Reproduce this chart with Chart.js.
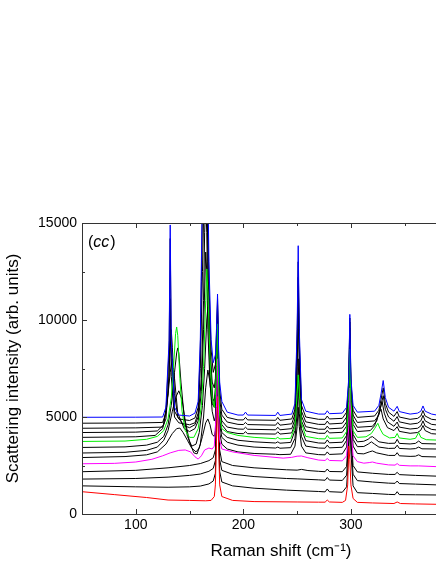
<!DOCTYPE html>
<html>
<head>
<meta charset="utf-8">
<script src="https://cdn.jsdelivr.net/npm/chart.js@4/dist/chart.umd.min.js"></script>
<style>
  html, body { margin: 0; padding: 0; background: #fff; overflow: hidden; width: 436px; height: 564px; }
  #wrap { position: relative; width: 480px; height: 564px; }
</style>
</head>
<body>
<div id="wrap"><canvas id="chart"></canvas></div>
<script>
// Raman spectra, (cc) polarisation, stacked from top (blue) to bottom (red)
// each point: [Raman shift (cm-1), intensity (arb. units)]
const spec01 = [[50,4985],[100,4990],[125,5000],[128,5500],[131,8960],[132,14900],[133,8960],[136,5500],[140,5100],[150,5050],[155,5200],
  [158,5800],[160,9000],[161,13000],[162,17000],[164,24000],[165,26000],[166,24000],[167,17000],[168,13000],[170,9000],[172,7800],
  [174,8200],[175,9500],[176,11340],[177,8500],[178,6800],[180,5800],[185,5250],[195,5100],[200,5100],[202,5250],[204,5100],
  [230,5080],[232,5250],[234,5080],[245,5150],[248,5700],[250,9500],[251,13830],[252,9500],[254,5900],[258,5300],
  [270,5150],[276,5150],[278,5320],[280,5170],[292,5200],[296,5500],[298,7000],[299,10290],[300,7000],[302,5600],[306,5250],
  [322,5300],[326,5600],[328,6200],[330,6880],[332,6000],[335,5500],[340,5300],[343,5550],[345,5280],[355,5150],
  [362,5200],[365,5300],[367,5570],[369,5300],[375,5150],[380,5100],[420,5100]];
const spec02 = [[50,4680],[100,4690],[125,4720],[128,5200],[131,8500],[132,14200],[133,8500],[136,5300],[140,4900],[150,4820],[155,4950],
  [158,5500],[160,8500],[161,12000],[162,16000],[164,22000],[165,24000],[166,22000],[167,15500],[168,12000],[170,8500],[172,7300],
  [174,7700],[175,9200],[176,11100],[177,8100],[178,6400],[180,5400],[185,4980],[195,4850],[200,4850],[202,4980],[204,4850],
  [230,4830],[232,4980],[234,4830],[245,4900],[248,5400],[250,9000],[251,13000],[252,9000],[254,5600],[258,5000],
  [270,4880],[276,4880],[278,5050],[280,4900],[292,4930],[296,5250],[298,6800],[299,10100],[300,6800],[302,5350],[306,4980],
  [322,5050],[326,5350],[328,5900],[330,6500],[332,5700],[335,5250],[340,5030],[343,5280],[345,5000],[355,4880],
  [362,4930],[365,5050],[367,5330],[369,5050],[375,4880],[380,4850],[420,4850]];
const spec03 = [[50,4420],[100,4440],[125,4480],[128,4900],[131,7100],[132,11100],[133,7100],[136,5000],[140,4700],[150,4600],[155,4700],
  [158,5200],[160,7500],[162,12500],[164,18000],[165,20000],[166,18000],[167,13000],[169,8500],[171,6800],[173,6500],
  [174,7000],[175,8600],[176,10800],[177,7600],[178,5900],[180,5100],[185,4740],[195,4620],[200,4610],[202,4720],[204,4610],
  [230,4580],[232,4720],[234,4580],[245,4650],[248,5150],[250,8600],[251,12200],[252,8600],[254,5300],[258,4750],
  [270,4620],[276,4620],[278,4790],[280,4640],[292,4680],[296,5000],[298,6600],[299,9900],[300,6600],[302,5100],[306,4720],
  [322,4800],[326,5100],[328,5600],[330,6100],[332,5400],[335,5000],[340,4780],[343,5020],[345,4750],[355,4630],
  [362,4680],[365,4800],[367,5080],[369,4800],[375,4620],[380,4590],[420,4590]];
const spec04 = [[50,4200],[100,4220],[120,4280],[126,4600],[130,6200],[132,8600],[133,9500],[134,8600],[136,6200],[139,5000],[145,4550],[150,4450],[155,4600],
  [158,5000],[161,7000],[163,11000],[164,14500],[165,16000],[166,14500],[167,11000],[169,7200],[171,6000],[173,5800],
  [174,6500],[175,8200],[176,10500],[177,7200],[178,5500],[180,4800],[185,4480],[195,4380],[200,4370],[202,4470],[204,4370],
  [230,4340],[232,4470],[234,4340],[245,4400],[248,4900],[250,8000],[251,11500],[252,8000],[254,5050],[258,4500],
  [270,4370],[276,4370],[278,4530],[280,4390],[292,4430],[296,4750],[298,6400],[299,9600],[300,6400],[302,4850],[306,4470],
  [320,4520],[324,4800],[327,5400],[329,5800],[331,5200],[334,4750],[340,4520],[343,4740],[345,4480],[355,4380],
  [362,4420],[365,4540],[367,4800],[369,4530],[375,4360],[380,4330],[420,4330]];
const spec05 = [[50,3950],[100,3980],[118,4050],[125,4400],[129,5600],[132,7300],[134,8000],[136,7000],[139,5200],[145,4400],[150,4250],[155,4400],
  [158,4800],[161,6300],[163,9500],[165,13500],[166,12500],[167,9500],[169,6700],[171,5700],[173,5500],
  [174,6200],[175,7900],[176,10200],[177,7000],[178,5300],[180,4600],[185,4250],[195,4150],[200,4140],[202,4240],[204,4140],
  [230,4120],[232,4240],[234,4120],[245,4180],[248,4650],[250,7600],[251,11000],[252,7600],[254,4800],[258,4280],
  [270,4160],[276,4160],[278,4310],[280,4180],[292,4210],[296,4530],[298,6200],[299,9300],[300,6200],[302,4620],[306,4250],
  [318,4300],[322,4550],[326,5200],[328,5400],[330,4900],[334,4450],[340,4300],[343,4500],[345,4260],[355,4160],
  [362,4200],[365,4320],[367,4560],[369,4300],[375,4140],[380,4120],[420,4120]];
const spec06 = [[50,3740],[90,3760],[110,3850],[120,4000],[126,4300],[130,4900],[133,6000],[135,7500],[137,9300],[138,9640],[139,9200],[141,7000],[143,5300],[146,4300],[150,3950],[154,3950],
  [158,4400],[161,5600],[163,7600],[165,11000],[166,12630],[167,11500],[169,8000],[171,6000],[173,5500],
  [174,6100],[175,7600],[176,9800],[177,6800],[178,5100],[180,4400],[185,4200],[195,4050],[210,3950],[230,3880],[232,3950],[234,3870],
  [244,3900],[248,4500],[250,6200],[251,7170],[252,6300],[254,4700],[258,4000],
  [270,3880],[276,3870],[278,4050],[280,3900],[292,3920],[296,4250],[298,5800],[299,8500],[300,5800],[302,4300],[306,3950],
  [314,3980],[319,4150],[322,4400],[325,4675],[327,4400],[330,4100],[336,3920],[341,3950],[343,4150],[345,3920],[355,3850],
  [360,3900],[363,4200],[365,3950],[370,3830],[380,3810],[420,3800]];
const spec07 = [[50,3430],[90,3460],[110,3550],[120,3700],[126,4000],[130,4600],[133,5600],[136,7300],[138,8300],[139,8560],[140,8300],[142,6800],[145,5000],[148,4000],[152,3500],[156,3600],
  [159,4200],[162,5600],[164,7500],[166,10000],[167,10670],[168,10000],[170,7300],[172,5600],[174,5600],
  [175,7000],[176,9500],[177,6500],[178,4900],[180,4200],[185,3950],[195,3800],[210,3720],[230,3660],[232,3720],[234,3650],
  [244,3690],[248,4300],[250,6000],[251,8000],[252,6000],[254,4400],[258,3780],
  [270,3660],[276,3650],[278,3820],[280,3670],[292,3700],[296,4050],[298,5800],[299,8600],[300,5800],[302,4100],[306,3720],
  [312,3750],[316,3850],[318,3950],[320,3990],[322,3900],[326,3720],[335,3640],[341,3650],[343,3850],[345,3640],[355,3610],
  [360,3640],[363,3760],[366,3630],[380,3610],[420,3600]];
const spec08 = [[50,3145],[90,3180],[110,3280],[120,3450],[126,3800],[130,4300],[134,5300],[137,6000],[140,6350],[143,5900],[146,4800],[150,3700],[154,3150],[157,3100],
  [160,3600],[163,5000],[165,6500],[167,7420],[169,6800],[171,5300],[173,4800],[174,5000],
  [175,6600],[176,9200],[177,6200],[178,4600],[180,3950],[185,3700],[195,3550],[210,3450],[230,3400],[232,3450],[234,3390],
  [244,3420],[248,3900],[250,5200],[251,6800],[252,5200],[254,4000],[258,3500],
  [270,3400],[276,3390],[278,3550],[280,3410],[292,3440],[296,3800],[298,5500],[299,8200],[300,5500],[302,3850],[306,3470],
  [312,3480],[316,3600],[319,3720],[322,3600],[326,3450],[335,3380],[341,3390],[343,3550],[345,3380],[355,3350],
  [360,3370],[363,3450],[366,3360],[380,3350],[420,3340]];
const spec09 = [[50,2910],[90,2960],[110,3050],[120,3200],[128,3600],[134,4150],[138,4400],[141,4430],[144,4200],[148,3800],[152,3400],[156,3200],
  [159,3400],[162,4000],[165,4700],[167,4900],[169,4600],[171,4100],[173,4000],[174,4300],
  [175,6200],[176,8900],[177,5800],[178,4200],[180,3600],[185,3350],[195,3200],[210,3120],[230,3080],[234,3060],
  [244,3080],[248,3500],[250,4500],[251,5500],[252,4500],[254,3500],[258,3150],
  [270,3060],[276,3050],[278,3200],[280,3070],[292,3100],[296,3450],[298,5200],[299,7800],[300,5200],[302,3500],[306,3120],
  [312,3100],[317,3200],[320,3250],[324,3150],[335,3020],[341,3020],[343,3160],[345,3000],[355,2970],
  [360,2980],[363,3050],[366,2960],[380,2940],[420,2930]];
const spec10 = [[50,2590],[80,2610],[100,2680],[115,2820],[125,3000],[132,3150],[140,3280],[146,3300],[151,3200],[155,2950],[158,2830],[161,3000],[164,3300],[168,3400],[171,3350],[173,3500],
  [175,5500],[176,8000],[177,5200],[178,3800],[180,3350],[190,3200],[210,3020],[237,2880],[245,2920],[250,2980],[254,2990],[260,2900],
  [270,2780],[276,2760],[278,2860],[280,2760],[292,2740],[296,3000],[298,4500],[299,6500],[300,4500],[302,3000],[306,2700],
  [312,2620],[317,2650],[320,2680],[324,2620],[335,2530],[341,2520],[343,2600],[345,2510],[355,2480],[363,2480],[380,2440],[420,2420]];
const spec11 = [[50,2180],[100,2250],[130,2380],[150,2500],[160,2600],[168,2750],[172,2900],[174,3300],
  [175,5500],[176,8000],[177,5000],[178,3300],[180,2700],[190,2500],[210,2380],[240,2280],[250,2260],[254,2300],[260,2240],
  [270,2200],[276,2180],[278,2320],[280,2190],[292,2180],[296,2450],[298,4200],[299,6500],[300,4200],[302,2500],[306,2170],
  [320,2100],[335,2040],[341,2040],[343,2150],[345,2030],[360,1990],[380,1950],[420,1930]];
const spec12 = [[50,1800],[100,1830],[130,1900],[150,1990],[160,2060],[168,2200],[172,2350],[174,2750],
  [175,5000],[176,7600],[177,4600],[178,2800],[180,2250],[190,2050],[210,1930],[240,1830],[250,1810],
  [270,1760],[276,1740],[278,1880],[280,1750],[292,1730],[296,2000],[298,3800],[299,5800],[300,3800],[302,2050],[306,1720],
  [320,1650],[335,1590],[341,1580],[343,1700],[345,1570],[360,1540],[380,1500],[420,1480]];
const spec13 = [[50,1450],[100,1400],[130,1380],[150,1400],[160,1440],[168,1550],[172,1700],[174,2100],
  [175,4500],[176,7000],[177,4100],[178,2200],[180,1650],[190,1450],[210,1330],[240,1230],
  [270,1160],[276,1140],[278,1290],[280,1150],[292,1120],[296,1400],[298,3200],[299,5000],[300,3200],[302,1450],[306,1100],
  [320,1060],[335,1010],[341,1000],[343,1150],[345,1000],[360,990],[380,980],[420,960]];
const spec14 = [[50,1150],[80,1000],[110,850],[130,720],[150,700],[165,680],[170,700],[173,900],[174,1500],
  [175,3800],[176,6050],[177,3500],[178,1500],[180,900],[190,700],[210,640],[250,620],
  [270,610],[276,610],[278,720],[280,620],[292,600],[295,700],[297,1500],[298,3500],[299,2800],[300,1500],[302,800],[306,600],
  [320,570],[340,540],[343,620],[346,540],[360,520],[380,500],[420,490]];

const spectra = [spec01, spec02, spec03, spec04, spec05, spec06, spec07, spec08, spec09, spec10, spec11, spec12, spec13, spec14];
const lineColors = ['#0000ff', '#000000', '#000000', '#000000', '#000000', '#00ee00', '#000000',
  '#000000', '#000000', '#ff00ff', '#000000', '#000000', '#000000', '#ff0000'];

const xTicks = [100, 200, 300, 400];
const xMinorTicks = [50, 150, 250, 350];
const yTicks = [0, 5000, 10000, 15000];
const yMinorTicks = [2500, 7500, 12500];

const FONT = '"Liberation Sans", Arial, sans-serif';

// frame, inward tick marks and the (cc) panel label
const framePlugin = {
  id: 'frame',
  afterDatasetsDraw(chart) {
    const {ctx, chartArea: a, scales: {x, y}} = chart;
    ctx.save();
    ctx.strokeStyle = '#333';
    ctx.lineWidth = 1;
    ctx.beginPath();
    ctx.moveTo(a.right, a.top + 0.5); ctx.lineTo(a.left + 0.5, a.top + 0.5);
    ctx.lineTo(a.left + 0.5, a.bottom + 0.5); ctx.lineTo(a.right, a.bottom + 0.5);
    const tick = (px, len, vertical) => {
      if (vertical) {
        ctx.moveTo(Math.round(px) + 0.5, a.bottom); ctx.lineTo(Math.round(px) + 0.5, a.bottom - len);
        ctx.moveTo(Math.round(px) + 0.5, a.top); ctx.lineTo(Math.round(px) + 0.5, a.top + len);
      } else {
        ctx.moveTo(a.left, Math.round(px) + 0.5); ctx.lineTo(a.left + len, Math.round(px) + 0.5);
      }
    };
    xTicks.forEach(v => tick(x.getPixelForValue(v), 5, true));
    xMinorTicks.forEach(v => tick(x.getPixelForValue(v), 3, true));
    yTicks.forEach(v => tick(y.getPixelForValue(v), 5, false));
    yMinorTicks.forEach(v => tick(y.getPixelForValue(v), 3, false));
    ctx.stroke();

    ctx.fillStyle = '#000';
    ctx.textBaseline = 'alphabetic';
    let tx = a.left + 6, ty = a.top + 24;
    ctx.font = '16px ' + FONT;
    ctx.fillText('(', tx, ty); tx += ctx.measureText('(').width;
    ctx.font = 'italic 16px ' + FONT;
    ctx.fillText('cc', tx, ty); tx += ctx.measureText('cc').width + 1;
    ctx.font = '16px ' + FONT;
    ctx.fillText(')', tx, ty);
    ctx.restore();
  }
};

new Chart(document.getElementById('chart'), {
  type: 'line',
  data: {
    datasets: spectra.map((s, i) => ({
      data: s.map(([x, y]) => ({x, y})),
      borderColor: lineColors[i],
      borderWidth: 1,
      pointRadius: 0,
      tension: 0,
      fill: false,
      order: lineColors[i] === '#000000' ? 1 : 0
    }))
  },
  options: {
    responsive: true,
    maintainAspectRatio: false,
    animation: false,
    events: [],
    layout: { padding: { top: 223, left: 0, right: 0, bottom: 0 } },
    plugins: { legend: { display: false }, tooltip: { enabled: false } },
    scales: {
      x: {
        type: 'linear',
        min: 50,
        max: 420,
        grid: { display: false, drawTicks: false },
        border: { display: false },
        afterBuildTicks: s => { s.ticks = xTicks.map(value => ({value})); },
        afterFit: s => { s.height = 50; },
        ticks: { color: '#000', padding: 3, font: { family: FONT, size: 14 }, callback: v => String(v) },
        title: {
          display: true,
          text: 'Raman shift (cm\u207B\u00B9)',
          color: '#000',
          font: { family: FONT, size: 17 },
          padding: { top: 0, bottom: 2 }
        }
      },
      y: {
        min: 0,
        max: 15000,
        grid: { display: false, drawTicks: false },
        border: { display: false },
        afterBuildTicks: s => { s.ticks = yTicks.map(value => ({value})); },
        afterFit: s => { s.width = 82; },
        ticks: { color: '#000', padding: 5, font: { family: FONT, size: 14 }, callback: v => String(v) },
        title: {
          display: true,
          text: 'Scattering intensity (arb. units)',
          color: '#000',
          font: { family: FONT, size: 17 },
          padding: { top: 3, bottom: 0 }
        }
      }
    }
  },
  plugins: [framePlugin]
});
</script>
</body>
</html>
